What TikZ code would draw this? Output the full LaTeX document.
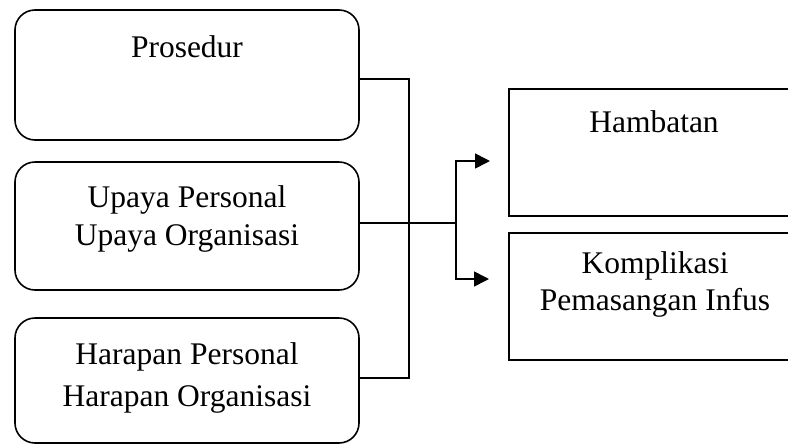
\documentclass[tikz,border=0pt]{standalone}
\usepackage{fontspec}
\setmainfont{Liberation Serif}
\usetikzlibrary{arrows.meta}
\begin{document}
\begin{tikzpicture}[x=1pt,y=-1pt,
  roundbox/.style={draw,line width=1.6pt,rounded corners=20pt,inner sep=0pt,
    minimum width=344pt},
  sharpbox/.style={draw,line width=1.6pt,inner sep=0pt,anchor=north west,
    minimum width=330pt,minimum height=127pt},
  label/.style={font=\fontsize{31.5}{38}\selectfont,anchor=base,inner sep=0pt},
  link/.style={line width=1.6pt},
  arrowlink/.style={line width=1.6pt,-{Triangle[length=15pt,width=15pt]}}]
\useasboundingbox (0,0) rectangle (788,445);
\clip (0,0) rectangle (788,445);

% left column: rounded boxes
\node[roundbox,minimum height=130pt] (b1) at (187,75) {};
\node[roundbox,minimum height=128pt] (b2) at (187,226) {};
\node[roundbox,minimum height=125pt] (b3) at (187,380.5) {};

\node[label] (t1) at (187,57) {Prosedur};
\node[label] (t2a) at (187,207) {Upaya Personal};
\node[label] (t2b) at (187,245) {Upaya Organisasi};
\node[label] (t3a) at (187,364) {Harapan Personal};
\node[label] (t3b) at (187,406) {Harapan Organisasi};

% right column: boxes running off the right edge
\node[sharpbox] (rA) at (508,88) {};
\node[sharpbox] (rB) at (508,232) {};

\node[label] (tA) at (654,132) {Hambatan};
\node[label] (tBa) at (655,273) {Komplikasi};
\node[label] (tBb) at (655,310) {Pemasangan Infus};

% connectors
\coordinate (c1) at (409,79);
\coordinate (c3) at (409,378);
\coordinate (split) at (456,223);
\coordinate (endA) at (490,161);
\coordinate (endB) at (489,279);

\draw[link] (b1.east |- c1) -- (c1) -- (c3) -- (b3.east |- c3);
\draw[link] (b2.east |- split) -- (split);
\draw[arrowlink] (split) |- (endA);
\draw[arrowlink] (split) |- (endB);
\end{tikzpicture}
\end{document}
